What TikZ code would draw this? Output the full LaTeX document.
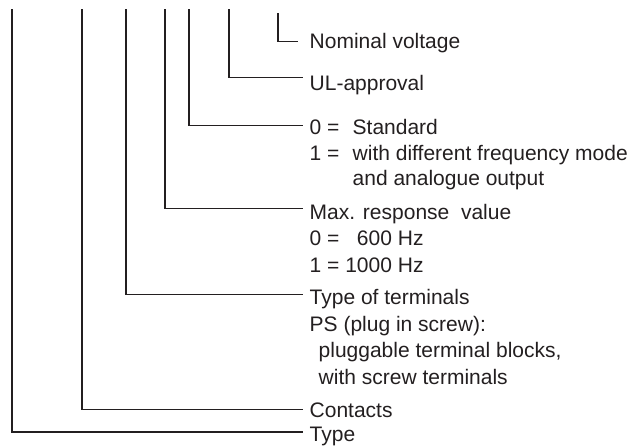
\documentclass[tikz,border=0pt]{standalone}
\usepackage{fontspec}
\setmainfont{Liberation Sans}
\definecolor{ink}{RGB}{35,31,32}
\begin{document}
\begin{tikzpicture}[x=1pt, y=-1pt,
        entry/.style={anchor=base west, inner sep=0pt, text=ink, font=\fontsize{21}{26.5}\selectfont},
        lead/.style={draw=ink, line width=1.2pt}
    ]
        \useasboundingbox (0,0) rectangle (632,445);

        % Tops of the code positions
        \coordinate (cType) at (12,9);
        \coordinate (cCont) at (82,9);
        \coordinate (cTerm) at (126,9);
        \coordinate (cMax) at (165,9);
        \coordinate (cStd) at (189,9);
        \coordinate (cUL) at (229,9);
        \coordinate (cNom) at (278,13);

        % Labels
        \node[entry] (nom) at (309.5,48.5) {Nominal voltage};
        \node[entry] (ul) at (309.5,90.7) {UL-approval};
        \node[entry] (std) at (309.5,134.3) {\makebox[43pt][l]{0 =}Standard};
        \node[entry] (std1) at (309.5,160) {\makebox[43pt][l]{1 =}with different frequency mode};
        \node[entry] (std2) at (352.5,185.5) {and analogue output};
        \node[entry] (max) at (309.5,219) {Max. response\ \ value};
        \node[entry] (max0) at (309.5,245.7) {0 = \phantom{1}600 Hz};
        \node[entry] (max1) at (309.5,272.3) {1 = 1000 Hz};
        \node[entry] (term) at (309.5,304.3) {Type of terminals};
        \node[entry] (term1) at (309.5,331) {PS (plug in screw):};
        \node[entry] (term2) at (318.5,357.5) {pluggable terminal blocks,};
        \node[entry] (term3) at (318.5,384) {with screw terminals};
        \node[entry] (cont) at (309.5,417.7) {Contacts};
        \node[entry] (type) at (309.5,441.7) {Type};

        % Leads
        \draw[lead] (cNom) |- ([xshift=-11.5pt,yshift=7.2pt]nom.base west);
        \draw[lead] (cUL) |- ([xshift=-6.5pt,yshift=13.2pt]ul.base west);
        \draw[lead] (cStd) |- ([xshift=-6.5pt,yshift=8.6pt]std.base west);
        \draw[lead] (cMax) |- ([xshift=-6.5pt,yshift=10.6pt]max.base west);
        \draw[lead] (cTerm) |- ([xshift=-6.5pt,yshift=9.9pt]term.base west);
        \draw[lead] (cCont) |- ([xshift=-6.5pt,yshift=8.2pt]cont.base west);
        \draw[lead] (cType) |- ([xshift=-6.5pt,yshift=9.7pt]type.base west);
    \end{tikzpicture}
\end{document}
